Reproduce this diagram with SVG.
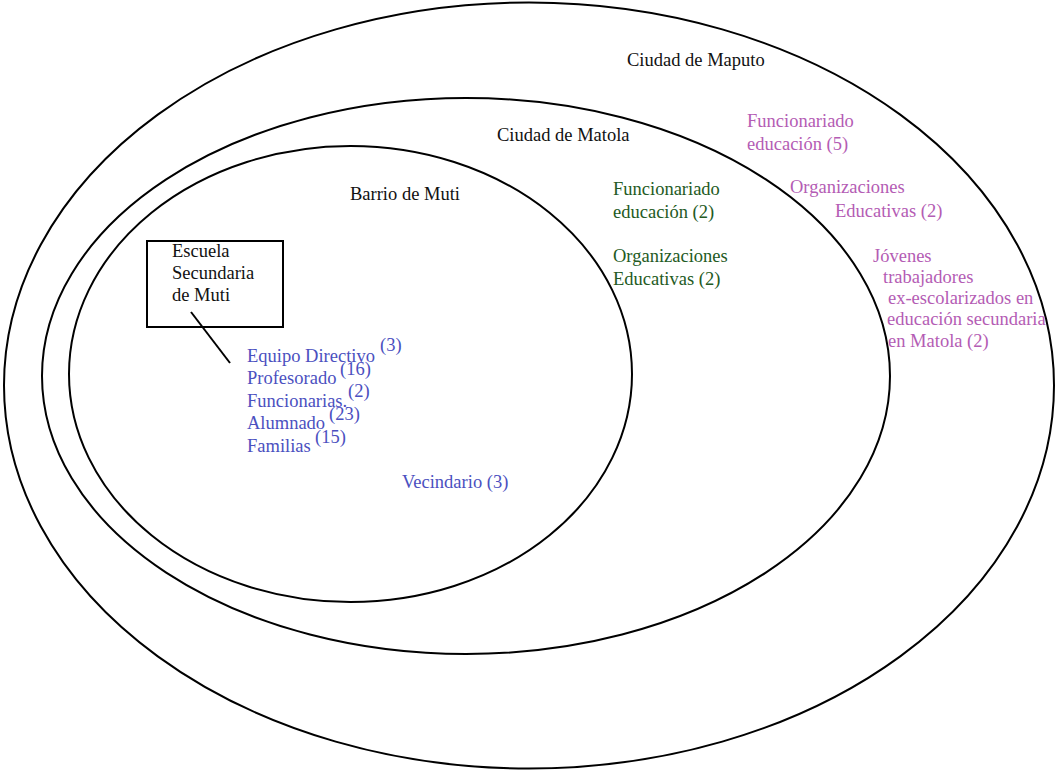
<svg xmlns="http://www.w3.org/2000/svg" width="1057" height="771" viewBox="0 0 1057 771">
<style>
.ring{fill:none;stroke:#000;stroke-width:2}
text{font-family:"Liberation Serif","Times New Roman",serif;font-size:18.5px}
.k{fill:#111}
.b{fill:#4b50c0}
.g{fill:#235a23}
.p{fill:#b45cb4}
</style>
<rect width="1057" height="771" fill="#fff"/>
<g id="maputo">
<ellipse class="ring" cx="529" cy="385.5" rx="525" ry="383"/>
<text class="k" x="627" y="66">Ciudad de Maputo</text>
</g>
<g id="matola">
<ellipse class="ring" cx="466" cy="376" rx="424" ry="278"/>
<text class="k" x="497" y="141">Ciudad de Matola</text>
</g>
<g id="muti">
<ellipse class="ring" cx="350.5" cy="374" rx="281.5" ry="228"/>
<text class="k" x="350" y="200">Barrio de Muti</text>
</g>
<g id="escuela">
<rect x="147" y="241" width="136" height="86" fill="#fff" stroke="#000" stroke-width="2"/>
<text class="k" x="172" y="257">Escuela</text>
<text class="k" x="172" y="279">Secundaria</text>
<text class="k" x="172" y="301">de Muti</text>
</g>
<g id="connectors">
<line x1="191" y1="312" x2="230" y2="363" stroke="#000" stroke-width="2"/>
</g>
<g id="escuela-actores">
<text class="b" x="247" y="362">Equipo Directivo</text><text class="b" x="380" y="351">(3)</text>
<text class="b" x="247" y="384">Profesorado</text><text class="b" x="340" y="375">(16)</text>
<text class="b" x="247" y="407">Funcionarias.</text><text class="b" x="348" y="397">(2)</text>
<text class="b" x="247" y="429">Alumnado</text><text class="b" x="329" y="420">(23)</text>
<text class="b" x="247" y="452">Familias</text><text class="b" x="315" y="443">(15)</text>
</g>
<g id="vecindario">
<text class="b" x="402" y="488">Vecindario (3)</text>
</g>
<g id="matola-actores">
<text class="g" x="613" y="195">Funcionariado</text>
<text class="g" x="613" y="218">educación (2)</text>
<text class="g" x="613" y="262">Organizaciones</text>
<text class="g" x="613" y="285">Educativas (2)</text>
</g>
<g id="maputo-actores">
<text class="p" x="747" y="127">Funcionariado</text>
<text class="p" x="747" y="150">educación (5)</text>
<text class="p" x="790" y="193">Organizaciones</text>
<text class="p" x="835" y="217">Educativas (2)</text>
<text class="p" x="873" y="262">Jóvenes</text>
<text class="p" x="883" y="283">trabajadores</text>
<text class="p" x="888" y="304">ex-escolarizados en</text>
<text class="p" x="887" y="325">educación secundaria</text>
<text class="p" x="888" y="347">en Matola (2)</text>
</g>
</svg>
